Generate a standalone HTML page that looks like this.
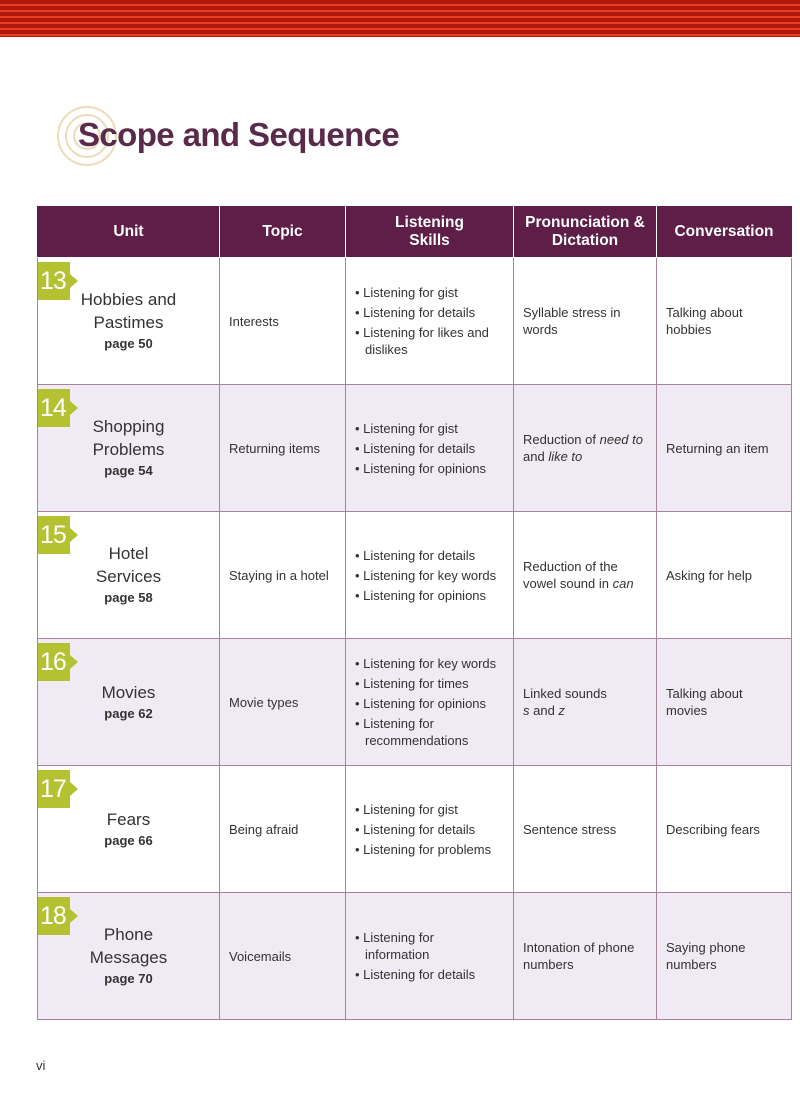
<!DOCTYPE html>
<html><head><meta charset="utf-8"><style>
body{margin:0;width:800px;height:1102px;background:#fff;position:relative;font-family:"Liberation Sans",sans-serif;overflow:hidden}
.stripes{position:absolute;left:0;top:0;width:800px;height:37px;background:repeating-linear-gradient(#b2170f 0 4px,#e8401f 4px 6px)}
h1{position:absolute;left:78px;top:116px;margin:0;font-size:33px;color:#5a2a4a;font-weight:bold;letter-spacing:-0.6px}
.circ{position:absolute;border-radius:50%;border:2px solid #eadcb8}
table{position:absolute;left:37px;top:206px;border-collapse:collapse;table-layout:fixed;width:754px}
td,th{border:1px solid #a8849c;font-size:13px;color:#333;padding:0 9px;vertical-align:middle;line-height:17px}
th{background:#5e1e48;color:#fff;height:50px;font-size:15.5px;text-align:center;border-color:#fff;border-top-color:#5e1e48;line-height:18px;padding:0 4px}
th:first-child{border-left-color:#5e1e48}th:last-child{border-right-color:#5e1e48}
tr.r td{height:126px}
tr.alt td{background:#efeaf3}
td.u{text-align:center;position:relative;font-size:17px;line-height:23px;color:#333}
td.u b{display:block;font-size:13px;line-height:20px}
ul{margin:0;padding:0;list-style:none}
li{line-height:17px;padding-left:10px;text-indent:-10px;margin:3px 0}
li:before{content:"• "}
.bd{position:absolute;left:0;top:4px;width:30px;height:38px;background:#b4c232;color:#fff;font-size:25px;line-height:38px;text-align:left;padding-left:2px;letter-spacing:-1px}
.bd:after{content:"";position:absolute;right:-8px;top:12px;border-left:8px solid #b4c232;border-top:7px solid transparent;border-bottom:7px solid transparent}
</style></head><body>
<div class="stripes"></div>
<div class="circ" style="left:57px;top:106px;width:56px;height:56px"></div>
<div class="circ" style="left:65px;top:114px;width:40px;height:40px"></div>
<div class="circ" style="left:73px;top:122px;width:24px;height:24px"></div>
<h1>Scope and Sequence</h1>
<table>
<colgroup><col style="width:182px"><col style="width:126px"><col style="width:168px"><col style="width:143px"><col style="width:135px"></colgroup>
<tr><th>Unit</th><th>Topic</th><th>Listening<br>Skills</th><th>Pronunciation &amp;<br>Dictation</th><th>Conversation</th></tr>
<tr class="r"><td class="u"><div class="bd">13</div>Hobbies and<br>Pastimes<b>page 50</b></td><td>Interests</td><td><ul><li>Listening for gist</li><li>Listening for details</li><li>Listening for likes and dislikes</li></ul></td><td>Syllable stress in words</td><td>Talking about hobbies</td></tr>
<tr class="r alt"><td class="u"><div class="bd">14</div>Shopping<br>Problems<b>page 54</b></td><td>Returning items</td><td><ul><li>Listening for gist</li><li>Listening for details</li><li>Listening for opinions</li></ul></td><td>Reduction of <i>need to</i> and <i>like to</i></td><td>Returning an item</td></tr>
<tr class="r"><td class="u"><div class="bd">15</div>Hotel<br>Services<b>page 58</b></td><td>Staying in a hotel</td><td><ul><li>Listening for details</li><li>Listening for key words</li><li>Listening for opinions</li></ul></td><td>Reduction of the vowel sound in <i>can</i></td><td>Asking for help</td></tr>
<tr class="r alt"><td class="u"><div class="bd">16</div>Movies<b>page 62</b></td><td>Movie types</td><td><ul><li>Listening for key words</li><li>Listening for times</li><li>Listening for opinions</li><li>Listening for recommendations</li></ul></td><td>Linked sounds<br><i>s</i> and <i>z</i></td><td>Talking about movies</td></tr>
<tr class="r"><td class="u"><div class="bd">17</div>Fears<b>page 66</b></td><td>Being afraid</td><td><ul><li>Listening for gist</li><li>Listening for details</li><li>Listening for problems</li></ul></td><td>Sentence stress</td><td>Describing fears</td></tr>
<tr class="r alt"><td class="u"><div class="bd">18</div>Phone<br>Messages<b>page 70</b></td><td>Voicemails</td><td><ul><li>Listening for<br>information</li><li>Listening for details</li></ul></td><td>Intonation of phone numbers</td><td>Saying phone numbers</td></tr>
</table>
<div style="position:absolute;left:36px;top:1058px;font-size:13px;color:#333">vi</div>
</body></html>
